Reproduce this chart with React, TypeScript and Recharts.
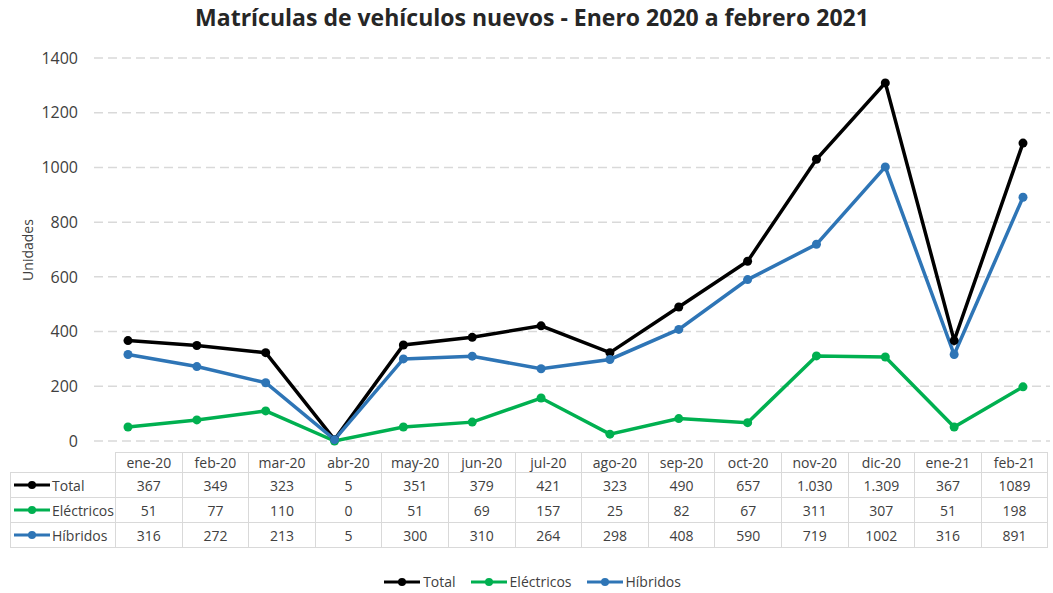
import { LineChart, Line, XAxis, YAxis, CartesianGrid } from "recharts"

const months = [
  "ene-20", "feb-20", "mar-20", "abr-20", "may-20", "jun-20", "jul-20",
  "ago-20", "sep-20", "oct-20", "nov-20", "dic-20", "ene-21", "feb-21",
]
const total = [367, 349, 323, 5, 351, 379, 421, 323, 490, 657, 1030, 1309, 367, 1089]
const electricos = [51, 77, 110, 0, 51, 69, 157, 25, 82, 67, 311, 307, 51, 198]
const hibridos = [316, 272, 213, 5, 300, 310, 264, 298, 408, 590, 719, 1002, 316, 891]
// how the table prints each value (the source uses a thousands dot on two cells)
const totalLabels = ["367", "349", "323", "5", "351", "379", "421", "323", "490", "657", "1.030", "1.309", "367", "1089"]
const yTicks = [0, 200, 400, 600, 800, 1000, 1200, 1400]

const series = [
  { key: "total", name: "Total", color: "#000000", values: total, labels: totalLabels },
  { key: "electricos", name: "Eléctricos", color: "#00B050", values: electricos, labels: electricos.map(String) },
  { key: "hibridos", name: "Híbridos", color: "#2E75B6", values: hibridos, labels: hibridos.map(String) },
]

const data = months.map((m, i) => ({
  month: m,
  total: total[i],
  electricos: electricos[i],
  hibridos: hibridos[i],
}))

const FONT = "'Open Sans', 'Noto Sans', sans-serif"
const TEXT = "#404040"
const BORDER = "#d9d9d9"

function KeyIcon({ color }: { color: string }) {
  return (
    <svg width={38} height={10} style={{ display: "block", flexShrink: 0 }}>
      <line x1={1} y1={5} x2={37} y2={5} stroke={color} strokeWidth={3} />
      <circle cx={19} cy={5} r={4} fill={color} />
    </svg>
  )
}

function DataTable() {
  const firstCol = 105
  const colW = 66.6
  const cell = {
    border: `1px solid ${BORDER}`,
    textAlign: "center" as const,
    padding: 0,
    fontSize: 14,
    color: TEXT,
    boxSizing: "border-box" as const,
  }
  return (
    <table
      style={{
        position: "absolute",
        left: 10,
        top: 452,
        borderCollapse: "collapse",
        tableLayout: "fixed",
        fontFamily: FONT,
        width: firstCol + colW * months.length,
      }}
    >
      <colgroup>
        <col style={{ width: firstCol }} />
        {months.map((m) => (
          <col key={m} style={{ width: colW }} />
        ))}
      </colgroup>
      <tbody>
        <tr style={{ height: 20 }}>
          <td style={{ padding: 0 }} />
          {months.map((m) => (
            <td key={m} style={cell}>{m}</td>
          ))}
        </tr>
        {series.map((s) => (
          <tr key={s.key} style={{ height: 25 }}>
            <td style={{ ...cell, textAlign: "left" }}>
              <div style={{ display: "flex", alignItems: "center", gap: 1, paddingLeft: 2 }}>
                <KeyIcon color={s.color} />
                <span>{s.name}</span>
              </div>
            </td>
            {s.labels.map((v, i) => (
              <td key={i} style={cell}>{v}</td>
            ))}
          </tr>
        ))}
      </tbody>
    </table>
  )
}

export default function App() {
  return (
    <div
      style={{
        position: "absolute",
        left: 0,
        top: 0,
        width: 1053,
        height: 593,
        background: "#fff",
        overflow: "hidden",
        fontFamily: FONT,
      }}
    >
      <div
        style={{
          position: "absolute",
          top: 1,
          left: 0,
          width: 1064,
          textAlign: "center",
          fontSize: 23,
          fontWeight: 700,
          color: "#262626",
        }}
      >
        Matrículas de vehículos nuevos - Enero 2020 a febrero 2021
      </div>

      <div
        style={{
          position: "absolute",
          left: 27,
          top: 250,
          transform: "translate(-50%, -50%) rotate(-90deg)",
          fontSize: 14,
          color: TEXT,
          whiteSpace: "nowrap",
        }}
      >
        Unidades
      </div>

      <div style={{ position: "absolute", left: 0, top: 0 }}>
        <LineChart
          width={1053}
          height={460}
          data={data}
          margin={{ top: 58, right: 3, bottom: 19, left: 0 }}
        >
          <CartesianGrid vertical={false} stroke="#d9d9d9" strokeDasharray="9 5" strokeWidth={1.5} />
          <XAxis dataKey="month" hide padding={{ left: 34, right: 27 }} />
          <YAxis
            width={94}
            domain={[0, 1400]}
            ticks={yTicks}
            axisLine={false}
            tickLine={false}
            tickSize={0}
            tickMargin={16}
            tick={{ fontSize: 16, fill: TEXT, fontFamily: FONT }}
          />
          {series.map((s) => (
            <Line
              key={s.key}
              type="linear"
              dataKey={s.key}
              name={s.name}
              stroke={s.color}
              strokeWidth={3.5}
              dot={{ r: 4.5, fill: s.color, stroke: s.color, strokeWidth: 0 }}
              activeDot={false}
              isAnimationActive={false}
            />
          ))}
        </LineChart>
      </div>

      <DataTable />

      <div
        style={{
          position: "absolute",
          top: 572,
          left: 0,
          width: 1064,
          display: "flex",
          justifyContent: "center",
          gap: 14,
          fontSize: 14,
          color: TEXT,
        }}
      >
        {series.map((s) => (
          <div key={s.key} style={{ display: "flex", alignItems: "center", gap: 2 }}>
            <KeyIcon color={s.color} />
            <span>{s.name}</span>
          </div>
        ))}
      </div>
    </div>
  )
}
